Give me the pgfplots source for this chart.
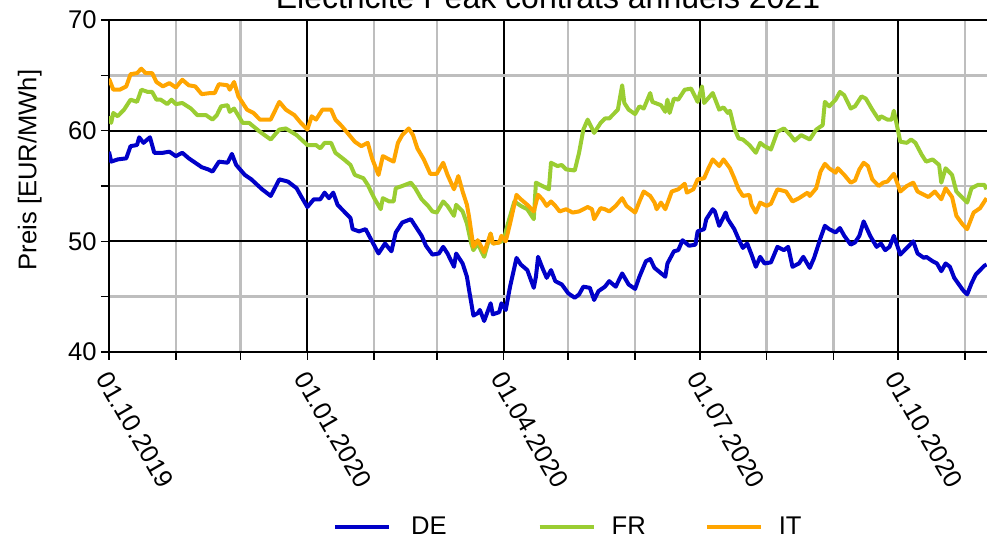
\documentclass[border=0pt]{standalone}
\usepackage{fontspec}
\setmainfont{Liberation Sans}
\usepackage{pgfplots}
\pgfplotsset{compat=1.18}

\definecolor{deblue}{HTML}{0000C8}
\definecolor{frgreen}{HTML}{9ACD32}
\definecolor{itorange}{HTML}{FFA500}
\definecolor{mingrid}{HTML}{BEBEBE}

% x = Tage seit 01.10.2019
\pgfplotstableread{
day val
0 58.1
1 57.2
4 57.4
8 57.5
10 58.6
13 58.7
14 59.4
16 58.9
19 59.4
21 58.0
25 58.0
28 58.1
31 57.7
34 58.0
37 57.5
40 57.1
43 56.7
46 56.5
48 56.3
51 57.2
55 57.1
57 57.9
59 56.9
63 56.0
66 55.6
71 54.7
75 54.1
79 55.6
83 55.4
87 54.8
89 54.1
92 53.1
95 53.8
98 53.8
100 54.4
102 53.9
104 54.4
106 53.3
109 52.7
112 52.1
113 51.1
116 50.9
119 51.1
122 50.0
125 48.9
128 49.8
131 49.1
133 50.8
136 51.7
140 52.0
142 51.4
145 50.5
147 49.6
150 48.8
153 48.9
155 49.5
157 48.9
160 47.7
161 48.9
164 48.0
166 46.8
167 45.6
169 43.3
171 43.5
172 43.8
174 42.8
177 44.4
178 43.4
181 43.6
182 44.4
184 43.8
186 45.9
189 48.5
191 47.9
194 47.4
197 45.8
198 46.8
199 48.6
201 47.6
203 46.7
205 47.4
207 46.4
210 46.1
213 45.3
216 44.9
218 45.2
220 45.9
223 45.8
225 44.7
227 45.5
230 45.9
232 46.4
235 45.9
238 47.1
241 46.1
244 45.7
246 46.8
249 48.2
251 48.4
253 47.6
258 46.8
259 48.0
262 49.1
264 49.2
266 50.1
269 49.6
272 49.7
273 50.9
276 51.1
277 52.0
280 52.9
281 52.7
283 51.4
286 52.6
287 52.0
290 51.1
292 50.2
294 49.4
296 49.8
298 48.8
300 47.7
302 48.6
304 48.0
307 48.1
310 49.5
313 49.2
315 49.5
317 47.7
320 48.0
322 48.6
325 47.6
327 48.5
330 50.3
332 51.4
334 51.1
337 50.8
339 51.2
341 50.5
344 49.7
346 49.9
348 50.5
350 51.8
353 50.5
356 49.5
358 49.8
360 49.2
362 49.5
364 50.5
367 48.8
370 49.4
373 50.0
375 48.9
378 48.5
379 48.6
382 48.2
384 48.0
386 47.3
388 48.0
390 47.7
392 46.7
396 45.6
398 45.2
400 46.2
402 47.0
404 47.4
406 47.8
407 47.9
}\tabDE

\pgfplotstableread{
day val
0 61.3
1 60.7
2 61.6
4 61.3
7 61.9
10 62.8
13 62.6
15 63.7
18 63.5
20 63.5
22 62.8
24 62.8
27 62.4
29 62.8
31 62.4
34 62.5
38 62.0
41 61.4
45 61.4
48 61.0
50 61.4
52 62.2
55 62.3
56 61.7
58 62.0
62 60.7
65 60.7
70 59.9
75 59.2
79 60.1
82 60.2
87 59.6
92 58.7
96 58.7
98 58.4
100 58.9
103 58.9
105 58.0
109 57.4
112 56.9
114 56.0
118 55.7
120 55.1
123 53.9
126 52.9
127 53.9
130 53.6
132 53.6
133 54.8
136 55.0
140 55.3
142 54.8
145 53.8
148 53.2
150 52.7
152 52.6
155 53.6
157 53.2
160 52.3
161 53.3
164 52.7
166 51.6
168 49.8
169 49.2
171 49.8
174 48.6
177 50.7
178 49.8
181 49.9
183 50.1
185 51.6
188 53.6
191 53.2
194 52.9
197 52.0
198 55.3
201 55.0
204 54.7
205 57.1
208 56.8
210 56.9
212 56.5
216 56.4
218 58.0
220 60.1
222 61.0
225 59.8
228 60.7
230 61.1
232 61.1
236 61.9
238 64.1
239 62.5
241 61.9
244 61.5
246 62.2
248 62.0
251 63.4
252 62.6
256 62.3
258 61.7
259 62.8
260 61.6
262 62.9
264 62.8
267 63.7
270 63.8
273 62.6
275 64.0
276 62.5
280 63.4
283 61.9
285 62.1
287 61.6
288 61.8
290 60.2
292 59.3
294 59.2
297 58.7
300 58.0
302 58.9
304 58.6
307 58.3
310 59.9
313 60.2
316 59.6
318 59.1
321 59.6
325 59.2
328 60.1
331 60.5
332 62.6
334 62.2
337 62.8
339 63.5
341 63.2
344 62.0
346 62.2
349 63.1
351 62.9
354 61.9
357 61.0
358 61.3
361 61.0
363 61.0
364 61.8
367 59.0
370 58.9
372 59.2
374 58.9
377 57.8
379 57.2
382 57.4
385 56.9
386 55.3
388 56.6
391 56.0
393 54.5
396 53.9
398 53.5
400 54.8
403 55.1
406 55.1
407 54.7
}\tabFR

\pgfplotstableread{
day val
0 64.7
2 63.7
5 63.7
8 64.0
10 65.1
13 65.2
15 65.6
17 65.2
20 65.2
22 64.4
25 64.0
28 64.3
31 63.9
34 64.6
37 64.1
40 64.0
43 63.3
47 63.4
49 63.4
51 64.2
55 64.1
56 63.7
58 64.4
60 63.1
64 61.9
67 61.6
70 61.0
75 61.0
79 62.6
82 61.9
86 61.4
89 60.7
92 60.1
94 61.3
96 61.0
99 61.9
103 61.9
105 61.0
108 60.4
111 59.7
114 59.0
117 58.6
120 58.9
122 57.5
125 56.0
127 57.7
130 57.4
132 57.2
134 58.9
136 59.6
139 60.2
141 59.6
143 58.4
146 57.4
149 56.1
152 56.1
155 57.1
157 56.0
160 54.7
162 55.9
164 54.5
166 53.3
167 52.2
169 49.5
171 50.1
173 49.4
174 49.0
177 50.7
178 49.8
181 49.9
182 50.5
184 50.0
186 51.6
189 54.2
191 53.8
194 53.3
197 52.7
199 54.2
201 53.8
203 53.2
205 53.6
207 53.2
209 52.7
212 52.9
215 52.6
218 52.7
222 53.1
224 52.9
225 52.0
228 53.0
230 52.9
232 52.7
235 53.2
238 53.9
240 53.2
244 52.6
246 53.6
248 54.5
251 54.1
253 53.5
254 52.9
256 53.5
258 52.9
261 54.5
264 54.7
267 55.2
268 54.4
271 54.7
273 55.6
276 55.7
278 56.6
280 57.4
283 56.8
285 57.4
288 56.6
290 55.7
292 54.7
294 54.1
297 54.2
298 53.3
300 52.6
302 53.5
305 53.2
307 53.4
310 54.7
314 54.5
317 53.6
320 53.9
324 54.4
325 54.1
328 54.8
330 56.3
332 57.0
334 56.6
337 56.2
338 56.6
341 56.0
344 55.3
346 55.5
348 56.5
350 57.1
352 56.8
354 55.6
357 55.0
359 55.3
361 55.4
364 56.1
367 54.5
370 55.0
373 55.3
375 54.5
378 54.2
380 54.0
383 54.5
386 53.8
388 54.8
391 54.0
393 52.3
396 51.5
398 51.1
401 52.6
404 53.0
407 53.9
}\tabIT

\begin{document}
\begin{tikzpicture}
\begin{axis}[
  at={(54.5pt,93.5pt)}, anchor=south west,
  scale only axis, width=439pt, height=166pt,
  xmin=0, xmax=407.2, ymin=40, ymax=70,
  axis x line*=bottom, axis y line*=left,
  axis line style={-, black, line width=1pt},
  xtick={0,92,183,274,366},
  xticklabels={01.10.2019,01.01.2020,01.04.2020,01.07.2020,01.10.2020},
  minor xtick={31,61,123,152,213,244,305,336,397},
  ytick={40,50,60,70},
  minor ytick={45,55,65},
  grid=both,
  major grid style={black, line width=1pt},
  minor grid style={mingrid, line width=1.2pt},
  tick align=outside,
  major tick length=4pt, minor tick length=4pt,
  every tick/.style={black, line width=0.8pt},
  every minor tick/.style={black, line width=0.8pt},
  /pgf/number format/assume math mode=true,
  ticklabel style={font=\fontsize{12.8}{15}\selectfont},
  xticklabel style={xshift=-3pt, yshift=-7pt, rotate=-60, anchor=west, inner sep=0pt},
  yticklabel style={inner sep=2pt},
  ylabel={Preis [EUR/MWh]},
  ylabel style={font=\fontsize{12.8}{15}\selectfont, at={(rel axis cs:0,0.548)},
    anchor=south, inner sep=0pt, yshift=33.5pt},
  title={Electricité Peak contrats annuels 2021},
  title style={font=\fontsize{16}{19}\selectfont, at={(0.5,1)}, anchor=base,
    inner sep=0pt, yshift=-0.5pt},
  legend columns=3,
  legend style={draw=none, fill=none, at={(0.522,-0.527)}, anchor=center,
    font=\fontsize{12.8}{15}\selectfont,
    nodes={inner sep=0pt},
    /tikz/column 1/.style={column sep=10pt},
    /tikz/column 2/.style={column sep=45.5pt},
    /tikz/column 3/.style={column sep=8pt},
    /tikz/column 4/.style={column sep=29.5pt},
    /tikz/column 5/.style={column sep=8pt}},
  legend image code/.code={\draw[#1] (0pt,0pt) -- (27pt,0pt);},
  every axis plot/.append style={line width=2pt, line join=round},
]
\addplot[deblue, mark=none] table[x=day, y=val] {\tabDE};
\addplot[frgreen, mark=none] table[x=day, y=val] {\tabFR};
\addplot[itorange, mark=none] table[x=day, y=val] {\tabIT};
\legend{DE,FR,IT}
\end{axis}
\pgfresetboundingbox
\useasboundingbox (0,0) rectangle (493.5pt,269.5pt);
\end{tikzpicture}
\end{document}
